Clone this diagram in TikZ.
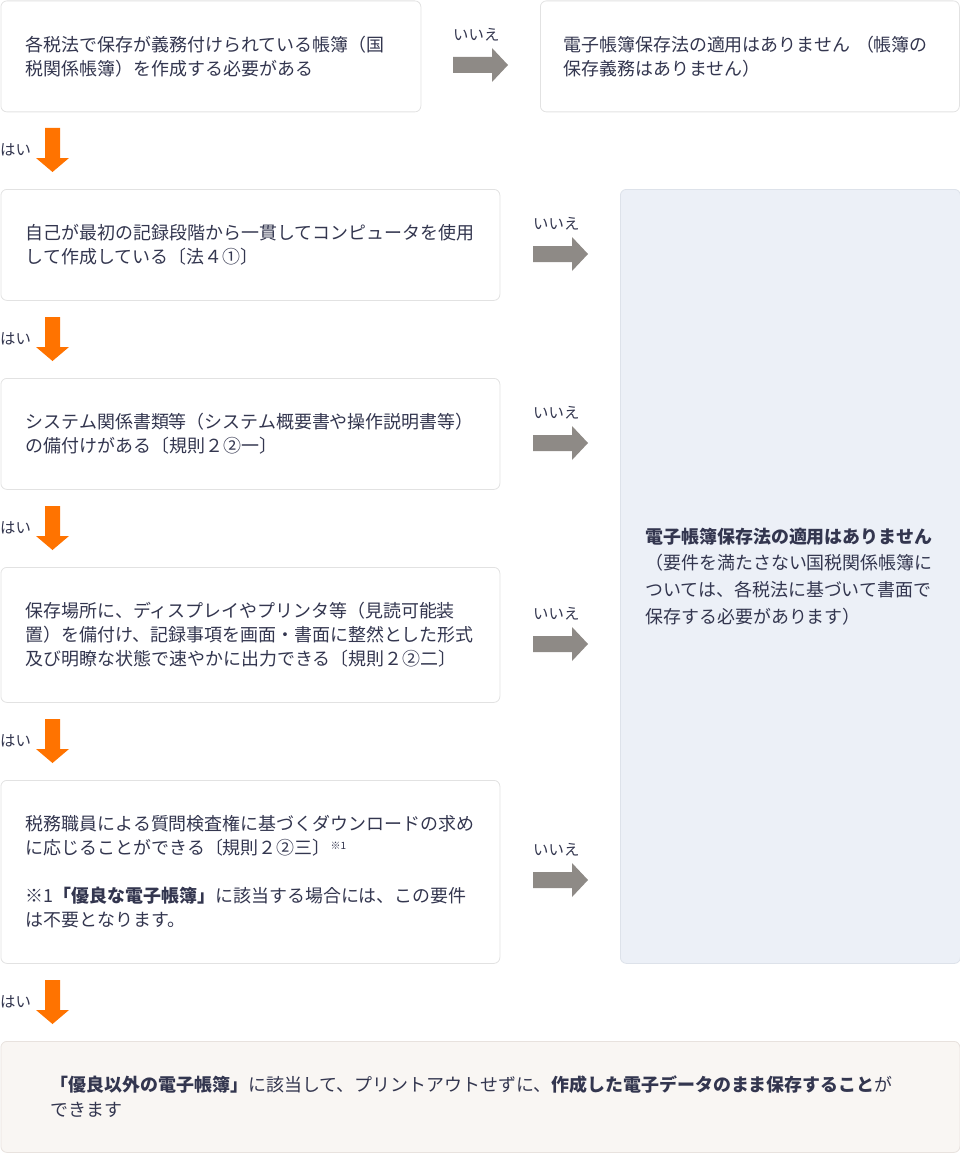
\documentclass[tikz,border=0pt]{standalone}
\usepackage{fontspec}
\setmainfont{Noto Sans CJK JP}
\definecolor{ink}{HTML}{33364F}
\definecolor{boxline}{HTML}{E2E2E2}
\definecolor{arrowgray}{HTML}{8E8A86}
\definecolor{arroworange}{HTML}{FF7300}
\definecolor{bluefill}{HTML}{ECF0F7}
\definecolor{blueline}{HTML}{DDE2EA}
\definecolor{creamfill}{HTML}{F9F6F3}
\definecolor{creamline}{HTML}{E8E2DE}
\newcommand\qfont{\fontsize{17.95}{24}\selectfont}
\newcommand\rfont{\fontsize{17.95}{26.7}\selectfont}
\newcommand\lfont{\fontsize{15.4}{18}\selectfont}
\tikzset{
  qbox/.style={draw=boxline, line width=0.8pt, rounded corners=6pt, fill=white,
    anchor=north west, align=left, inner xsep=25pt, inner ysep=0pt, text=ink, font=\qfont},
  lbl/.style={anchor=west, inner sep=0pt, text=ink, font=\lfont},
  garrow/.style={fill=arrowgray},
  oarrow/.style={fill=arroworange},
}
\begin{document}
\begin{tikzpicture}[x=1pt,y=-1pt]
\useasboundingbox (0,0) rectangle (960,1153);
% boxes
\node[qbox, text width=370pt, minimum height=111pt] (q0) at (0.5,0.5)
  {各税法で保存が義務付けられている帳簿（国\\税関係帳簿）を作成する必要がある};
\node[qbox, inner xsep=23pt, text width=373pt, minimum height=111pt] (n0) at (540,0.5)
  {電子帳簿保存法の適用はありません （帳簿の\\保存義務はありません）};
\node[qbox, text width=449pt, minimum height=111pt] (qA) at (0.5,189)
  {自己が最初の記録段階から一貫してコンピュータを使用\\して作成している〔法４①〕};
\node[qbox, text width=449pt, minimum height=111pt] (qB) at (0.5,378)
  {システム関係書類等（システム概要書や操作説明書等）\\の備付けがある〔規則２②一〕};
\node[qbox, text width=449pt, minimum height=135pt] (qC) at (0.5,567)
  {保存場所に、ディスプレイやプリンタ等（見読可能装\\置）を備付け、記録事項を画面・書面に整然とした形式\\及び明瞭な状態で速やかに出力できる〔規則２②二〕};
\node[qbox, text width=449pt, minimum height=183pt] (qD) at (0.5,780)
  {税務職員による質問検査権に基づくダウンロードの求め\\に応じることができる〔規則２②三〕{\fontsize{10}{10}\selectfont\raisebox{5pt}{※1}}\\[24pt]※1{\bfseries「優良な電子帳簿」}に該当する場合には、この要件\\は不要となります。};
\node[qbox, draw=blueline, fill=bluefill, font=\rfont, text width=290pt, minimum height=774pt] (nR) at (620,189)
  {{\bfseries 電子帳簿保存法の適用はありません}\\（要件を満たさない国税関係帳簿に\\ついては、各税法に基づいて書面で\\保存する必要があります）};
\node[qbox, draw=creamline, fill=creamfill, font=\fontsize{17.95}{25}\selectfont, inner xsep=50pt, text width=859pt, minimum height=111pt] (res) at (0.5,1041)
  {{\bfseries「優良以外の電子帳簿」}に該当して、プリントアウトせずに、{\bfseries 作成した電子データのまま保存すること}が\\できます};
% "no" arrows
\foreach \x/\y in {453/65, 533/254, 533/443, 533/644, 533/880} {
  \fill[garrow] (\x,\y-8) -- (\x+39,\y-8) -- (\x+39,\y-17) -- (\x+55,\y)
    -- (\x+39,\y+17) -- (\x+39,\y+8) -- (\x,\y+8) -- cycle;
  \node[lbl] (no\y) at (\x,\y-30) {いいえ};
}
% "yes" arrows
\foreach \y in {128, 317, 506, 719, 980} {
  \fill[oarrow] (45,\y) -- (60,\y) -- (60,\y+30) -- (69,\y+30) -- (52.5,\y+44)
    -- (36,\y+30) -- (45,\y+30) -- cycle;
  \node[lbl] (yes\y) at (0,\y+22) {はい};
}
\end{tikzpicture}
\end{document}
